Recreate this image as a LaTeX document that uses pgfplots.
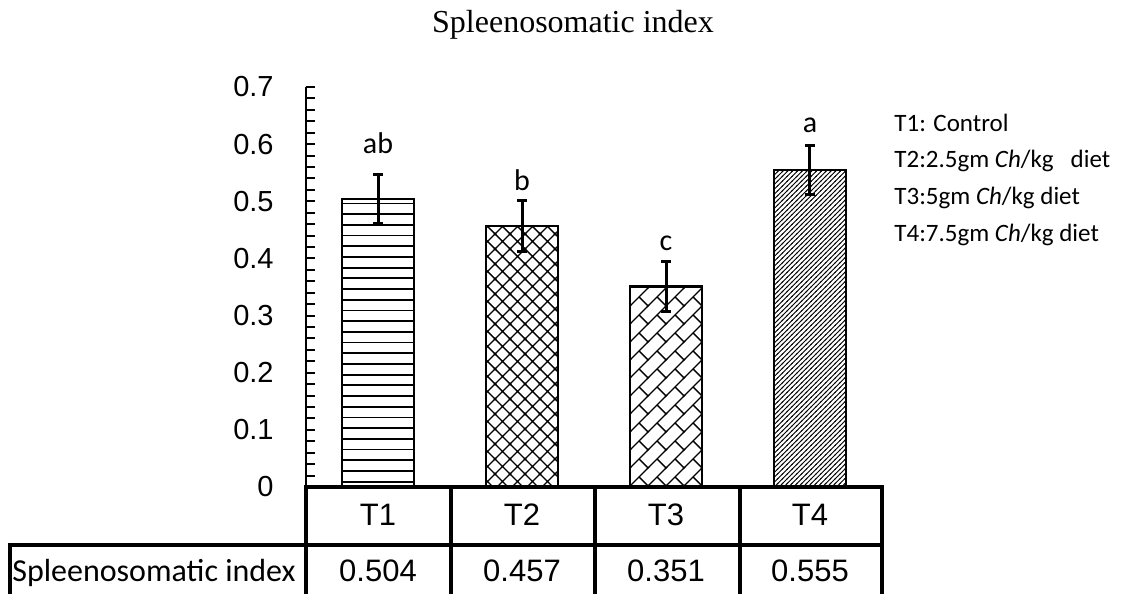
\documentclass[border=0pt]{standalone}
\usepackage{fontspec}
\setmainfont{Liberation Sans}
\newfontfamily\calf{Carlito}
\newfontfamily\timesf{Liberation Serif}
\usepackage{pgfplots}
\pgfplotsset{compat=1.18}
\usetikzlibrary{patterns}

\pgfdeclarepatternformonly{hl}{\pgfqpoint{-0.5pt}{0pt}}{\pgfqpoint{10.5pt}{5.35pt}}{\pgfqpoint{10pt}{5.35pt}}{%
 \pgfsetlinewidth{0.9pt}\pgfpathmoveto{\pgfqpoint{-0.5pt}{2.675pt}}\pgfpathlineto{\pgfqpoint{10.5pt}{2.675pt}}\pgfusepath{stroke}}
\pgfdeclarepatternformonly{xh}{\pgfqpoint{-1pt}{-1pt}}{\pgfqpoint{8.5pt}{8.5pt}}{\pgfqpoint{7.5pt}{7.5pt}}{%
 \pgfsetlinewidth{0.7pt}%
 \pgfpathmoveto{\pgfqpoint{-0.5pt}{-0.5pt}}\pgfpathlineto{\pgfqpoint{8pt}{8pt}}%
 \pgfpathmoveto{\pgfqpoint{-0.5pt}{8pt}}\pgfpathlineto{\pgfqpoint{8pt}{-0.5pt}}%
 \pgfusepath{stroke}}
\pgfdeclarepatternformonly{brick}{\pgfqpoint{-1pt}{-1pt}}{\pgfqpoint{10pt}{10pt}}{\pgfqpoint{9pt}{9pt}}{%
 \pgfsetlinewidth{0.7pt}%
 \pgfpathmoveto{\pgfqpoint{-0.5pt}{-0.5pt}}\pgfpathlineto{\pgfqpoint{9.5pt}{9.5pt}}%
 \pgfpathmoveto{\pgfqpoint{4.5pt}{4.5pt}}\pgfpathlineto{\pgfqpoint{9pt}{0pt}}%
 \pgfusepath{stroke}}
\pgfdeclarepatternformonly{dd}{\pgfqpoint{-1pt}{-1pt}}{\pgfqpoint{3.4pt}{3.4pt}}{\pgfqpoint{2.4pt}{2.4pt}}{%
 \pgfsetlinewidth{0.45pt}\pgfpathmoveto{\pgfqpoint{-0.3pt}{-0.3pt}}\pgfpathlineto{\pgfqpoint{2.7pt}{2.7pt}}\pgfusepath{stroke}}

\pgfplotsset{mybar/.style={ybar, bar width=0.5, bar shift=0pt, draw=black, line width=1.3pt,
  /pgfplots/error bars/y dir=both,
  /pgfplots/error bars/y explicit,
  /pgfplots/error bars/error mark=-,
  /pgfplots/error bars/error bar style={line width=1.5pt, black, solid},
  /pgfplots/error bars/error mark options={rotate=90, black, line width=1.5pt, mark size=2.4pt}}}

\begin{document}
\begin{tikzpicture}
\useasboundingbox (0,0) rectangle (567.5pt,297pt);
\begin{axis}[
 at={(153pt,53.5pt)}, anchor=south west,
 scale only axis, width=288pt, height=200pt,
 xmin=-0.5, xmax=3.5, ymin=0, ymax=0.7,
 axis x line=none, axis y line*=left,
 axis line style={line width=1.2pt, black},
 xtick=\empty,
 ytick={0,0.1,0.2,0.3,0.4,0.5,0.6,0.7},
 minor y tick num=4,
 tick align=inside, major tick length=4.5pt, minor tick length=4.5pt,
 tick style={black, line width=1pt},
 every error bar/.append style={line width=1.5pt},
 yticklabel style={font=\fontsize{14.5}{16}\selectfont, inner sep=0pt, xshift=-16pt},
 /pgf/number format/.cd, fixed, precision=1, assume math mode=true, /pgfplots/.cd,
]
\addplot[mybar, pattern=hl] coordinates {(0,0.504) +- (0,0.043)};
\addplot[mybar, pattern=xh] coordinates {(1,0.457) +- (0,0.044)};
\addplot[mybar, pattern=brick] coordinates {(2,0.351) +- (0,0.044)};
\addplot[mybar, pattern=dd] coordinates {(3,0.555) +- (0,0.043)};
\addplot[draw=none, mark=none, nodes near coords, point meta=explicit symbolic,
  every node near coord/.append style={font=\calf\fontsize{15}{17}\selectfont, black}]
  coordinates {(0,0.571)[ab] (1,0.506)[b] (2,0.401)[c] (3,0.608)[a]};
\end{axis}
% title
\node[font=\timesf\fontsize{16}{18}\selectfont, anchor=base] at (286.5pt,280.5pt) {Spleenosomatic index};
% legend text
\begin{scope}[every node/.style={anchor=base west, font=\calf\fontsize{12.5}{15}\selectfont, inner sep=0pt}]
\node at (447pt,231pt) {T1: Control};
\node at (447pt,213pt) {T2:2.5gm \textit{Ch}/kg\ \ \ diet};
\node at (447pt,194.5pt) {T3:5gm \textit{Ch}/kg diet};
\node at (447pt,176pt) {T4:7.5gm \textit{Ch}/kg diet};
\end{scope}
% data table
\begin{scope}[line width=2pt, line cap=rect]
\draw (153pt,53.5pt) -- (441pt,53.5pt);
\draw (5pt,24.5pt) -- (441pt,24.5pt);
\draw (5pt,0pt) -- (5pt,24.5pt);
\foreach \x in {153,225.5,297.5,370,441} \draw (\x pt,0pt) -- (\x pt,53.5pt);
\end{scope}
\begin{scope}[every node/.style={anchor=base, font=\fontsize{15.5}{17}\selectfont}]
\node at (189pt,34pt) {T1};
\node at (261pt,34pt) {T2};
\node at (333pt,34pt) {T3};
\node at (405pt,34pt) {T4};
\node at (189pt,6pt) {0.504};
\node at (261pt,6pt) {0.457};
\node at (333pt,6pt) {0.351};
\node at (405pt,6pt) {0.555};
\node[font=\calf\fontsize{16}{18}\selectfont] at (77pt,6pt) {Spleenosomatic index};
\end{scope}
\end{tikzpicture}
\end{document}
